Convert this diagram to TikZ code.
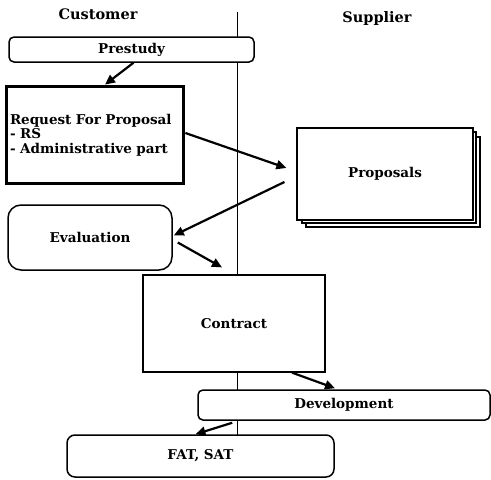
\documentclass[tikz,border=0pt]{standalone}
\usepackage{fontspec}
\setmainfont{DejaVu Serif}
\usetikzlibrary{arrows.meta}

\tikzset{
  flow/.style={
    x=1pt, y=-1pt,
    every node/.style={font=\fontsize{13.5}{14.5}\selectfont\bfseries},
    box/.style={draw, fill=white, line width=1.5pt, inner sep=2pt},
    roundbox/.style={box, rounded corners=5pt},
    title/.style={font=\fontsize{14.5}{15}\selectfont\bfseries},
    arr/.style={line width=2.2pt, -{Triangle[length=10pt,width=9pt]}},
  }
}

\begin{document}
\begin{tikzpicture}[flow]
    \useasboundingbox (0,0) rectangle (491,480);
    % border line between the two sides
    \coordinate (top) at (237,12);
    \coordinate (bottom) at (237,435);
    \draw[line width=1pt] (top) -- (bottom);

    \node[title] (customer) at (98,14) {Customer};
    \node[title] (supplier) at (377,18) {Supplier};

    \node[roundbox, minimum width=245pt, minimum height=25pt] (prestudy) at (131.5,49.5) {Prestudy};
    \node[box, line width=3.8pt, minimum width=177pt, minimum height=97pt,
          text width=170pt, align=left, inner sep=3.5pt] (rfp) at (95,135)
          {Request For Proposal\\- RS\\- Administrative part\\[14pt]};
    % pile of proposals
    \draw[line width=1.2pt, fill=white] (306,137) rectangle (480,227);
    \draw[line width=1.2pt, fill=white] (302,132) rectangle (476,223);
    \node[box, line width=1.2pt, minimum width=176pt, minimum height=92pt] (proposals) at (385,174) {Proposals};
    \node[box, rounded corners=13pt, minimum width=164pt, minimum height=65pt] (evaluation) at (90,237.5) {Evaluation};
    \node[box, line width=1.2pt, minimum width=182pt, minimum height=97pt] (contract) at (234,323.5) {Contract};
    \node[roundbox, minimum width=292pt, minimum height=30pt] (development) at (344,405) {Development};
    \node[roundbox, rounded corners=8pt, minimum width=267pt, minimum height=42pt] (fatsat) at (200.5,456) {FAT, SAT};

    \draw[arr] ([xshift=2pt]prestudy.south) -- ([xshift=10pt]rfp.north);
    \draw[arr] ([yshift=2pt]rfp.east) -- ([xshift=-10pt,yshift=6pt]proposals.west);
    \draw[arr] ([xshift=-12pt,yshift=-8pt]proposals.west) -- ([xshift=1pt,yshift=2pt]evaluation.east);
    \draw[arr] ([xshift=5pt,yshift=-5pt]evaluation.east) -- ([xshift=-12pt,yshift=7pt]contract.north);
    \draw[arr] ([xshift=58pt]contract.south) -- ([xshift=-9pt,yshift=1pt]development.north);
    \draw[arr] ([xshift=35pt,yshift=-2pt]development.south west) -- ([xshift=-5pt]fatsat.north);
\end{tikzpicture}
\end{document}
